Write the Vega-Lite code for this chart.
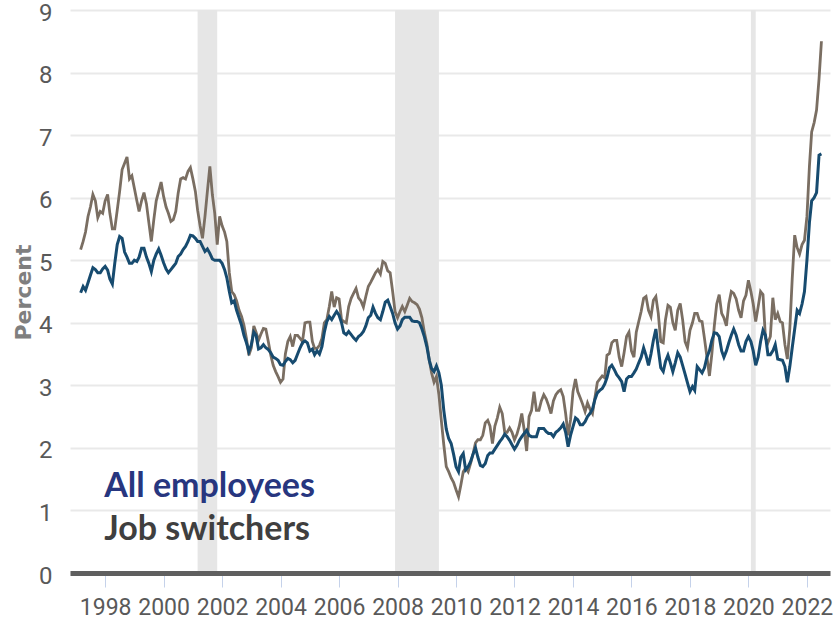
{
  "$schema": "https://vega.github.io/schema/vega-lite/v6.json",
  "width": 760,
  "height": 563,
  "autosize": {"type": "none"},
  "padding": {"left": 70, "top": 10, "right": 8, "bottom": 52},
  "background": "white",
  "config": {"view": {"stroke": null}},
  "datasets": {
    "wages": [
      {"d":"1997-03","a":4.48,"j":5.17},{"d":"1997-04","a":4.58,"j":5.30},{"d":"1997-05","a":4.52,"j":5.45},{"d":"1997-06","a":4.64,"j":5.70},{"d":"1997-07","a":4.76,"j":5.85},{"d":"1997-08","a":4.88,"j":6.05},{"d":"1997-09","a":4.85,"j":5.95},{"d":"1997-10","a":4.80,"j":5.68},{"d":"1997-11","a":4.80,"j":5.78},{"d":"1997-12","a":4.86,"j":5.75},
      {"d":"1998-01","a":4.90,"j":5.95},{"d":"1998-02","a":4.84,"j":6.05},{"d":"1998-03","a":4.70,"j":5.75},{"d":"1998-04","a":4.62,"j":5.50},{"d":"1998-05","a":4.95,"j":5.50},{"d":"1998-06","a":5.25,"j":5.80},{"d":"1998-07","a":5.38,"j":6.10},{"d":"1998-08","a":5.35,"j":6.45},{"d":"1998-09","a":5.13,"j":6.55},{"d":"1998-10","a":5.05,"j":6.65},{"d":"1998-11","a":4.95,"j":6.30},{"d":"1998-12","a":4.95,"j":6.35},
      {"d":"1999-01","a":5.00,"j":6.15},{"d":"1999-02","a":4.98,"j":5.95},{"d":"1999-03","a":5.05,"j":5.78},{"d":"1999-04","a":5.19,"j":5.95},{"d":"1999-05","a":5.19,"j":6.08},{"d":"1999-06","a":5.05,"j":5.90},{"d":"1999-07","a":4.95,"j":5.60},{"d":"1999-08","a":4.82,"j":5.30},{"d":"1999-09","a":5.00,"j":5.65},{"d":"1999-10","a":5.10,"j":5.95},{"d":"1999-11","a":5.18,"j":6.10},{"d":"1999-12","a":5.08,"j":6.25},
      {"d":"2000-01","a":4.96,"j":6.02},{"d":"2000-02","a":4.86,"j":5.85},{"d":"2000-03","a":4.80,"j":5.75},{"d":"2000-04","a":4.85,"j":5.62},{"d":"2000-05","a":4.90,"j":5.65},{"d":"2000-06","a":4.95,"j":5.78},{"d":"2000-07","a":5.06,"j":6.07},{"d":"2000-08","a":5.10,"j":6.30},{"d":"2000-09","a":5.17,"j":6.32},{"d":"2000-10","a":5.22,"j":6.30},{"d":"2000-11","a":5.30,"j":6.42},{"d":"2000-12","a":5.40,"j":6.48},
      {"d":"2001-01","a":5.39,"j":6.30},{"d":"2001-02","a":5.35,"j":6.10},{"d":"2001-03","a":5.30,"j":5.80},{"d":"2001-04","a":5.30,"j":5.55},{"d":"2001-05","a":5.22,"j":5.35},{"d":"2001-06","a":5.14,"j":5.70},{"d":"2001-07","a":5.18,"j":6.10},{"d":"2001-08","a":5.11,"j":6.50},{"d":"2001-09","a":5.02,"j":6.05},{"d":"2001-10","a":5.00,"j":5.75},{"d":"2001-11","a":5.00,"j":5.25},{"d":"2001-12","a":5.00,"j":5.70},
      {"d":"2002-01","a":4.95,"j":5.55},{"d":"2002-02","a":4.85,"j":5.45},{"d":"2002-03","a":4.72,"j":5.30},{"d":"2002-04","a":4.50,"j":4.80},{"d":"2002-05","a":4.32,"j":4.50},{"d":"2002-06","a":4.35,"j":4.45},{"d":"2002-07","a":4.20,"j":4.35},{"d":"2002-08","a":4.08,"j":4.20},{"d":"2002-09","a":3.96,"j":4.10},{"d":"2002-10","a":3.80,"j":3.96},{"d":"2002-11","a":3.68,"j":3.75},{"d":"2002-12","a":3.54,"j":3.48},
      {"d":"2003-01","a":3.65,"j":3.60},{"d":"2003-02","a":3.85,"j":3.95},{"d":"2003-03","a":3.80,"j":3.85},{"d":"2003-04","a":3.58,"j":3.72},{"d":"2003-05","a":3.60,"j":3.82},{"d":"2003-06","a":3.65,"j":3.91},{"d":"2003-07","a":3.60,"j":3.90},{"d":"2003-08","a":3.57,"j":3.70},{"d":"2003-09","a":3.52,"j":3.48},{"d":"2003-10","a":3.45,"j":3.32},{"d":"2003-11","a":3.43,"j":3.22},{"d":"2003-12","a":3.40,"j":3.14},
      {"d":"2004-01","a":3.33,"j":3.05},{"d":"2004-02","a":3.32,"j":3.10},{"d":"2004-03","a":3.38,"j":3.50},{"d":"2004-04","a":3.43,"j":3.70},{"d":"2004-05","a":3.41,"j":3.78},{"d":"2004-06","a":3.36,"j":3.62},{"d":"2004-07","a":3.40,"j":3.80},{"d":"2004-08","a":3.50,"j":3.80},{"d":"2004-09","a":3.60,"j":3.75},{"d":"2004-10","a":3.68,"j":3.70},{"d":"2004-11","a":3.71,"j":4.00},{"d":"2004-12","a":3.68,"j":4.01},
      {"d":"2005-01","a":3.55,"j":4.01},{"d":"2005-02","a":3.58,"j":3.70},{"d":"2005-03","a":3.49,"j":3.59},{"d":"2005-04","a":3.55,"j":3.59},{"d":"2005-05","a":3.50,"j":3.64},{"d":"2005-06","a":3.62,"j":3.75},{"d":"2005-07","a":3.85,"j":4.00},{"d":"2005-08","a":4.02,"j":4.05},{"d":"2005-09","a":4.10,"j":4.26},{"d":"2005-10","a":4.05,"j":4.50},{"d":"2005-11","a":4.12,"j":4.25},{"d":"2005-12","a":4.18,"j":4.40},
      {"d":"2006-01","a":4.12,"j":4.38},{"d":"2006-02","a":4.00,"j":4.05},{"d":"2006-03","a":3.84,"j":4.02},{"d":"2006-04","a":3.81,"j":4.00},{"d":"2006-05","a":3.86,"j":4.26},{"d":"2006-06","a":3.81,"j":4.39},{"d":"2006-07","a":3.76,"j":4.47},{"d":"2006-08","a":3.72,"j":4.55},{"d":"2006-09","a":3.78,"j":4.40},{"d":"2006-10","a":3.81,"j":4.35},{"d":"2006-11","a":3.86,"j":4.25},{"d":"2006-12","a":3.95,"j":4.42},
      {"d":"2007-01","a":4.08,"j":4.58},{"d":"2007-02","a":4.12,"j":4.65},{"d":"2007-03","a":4.25,"j":4.72},{"d":"2007-04","a":4.15,"j":4.80},{"d":"2007-05","a":4.08,"j":4.85},{"d":"2007-06","a":4.05,"j":4.78},{"d":"2007-07","a":4.18,"j":4.98},{"d":"2007-08","a":4.33,"j":4.95},{"d":"2007-09","a":4.36,"j":4.83},{"d":"2007-10","a":4.26,"j":4.80},{"d":"2007-11","a":4.15,"j":4.50},{"d":"2007-12","a":4.00,"j":4.18},
      {"d":"2008-01","a":3.90,"j":4.08},{"d":"2008-02","a":3.95,"j":4.18},{"d":"2008-03","a":4.05,"j":4.26},{"d":"2008-04","a":4.09,"j":4.18},{"d":"2008-05","a":4.09,"j":4.28},{"d":"2008-06","a":4.09,"j":4.39},{"d":"2008-07","a":4.03,"j":4.34},{"d":"2008-08","a":4.02,"j":4.32},{"d":"2008-09","a":4.02,"j":4.29},{"d":"2008-10","a":4.00,"j":4.22},{"d":"2008-11","a":3.90,"j":4.08},{"d":"2008-12","a":3.78,"j":3.85},
      {"d":"2009-01","a":3.62,"j":3.67},{"d":"2009-02","a":3.40,"j":3.40},{"d":"2009-03","a":3.27,"j":3.20},{"d":"2009-04","a":3.22,"j":3.05},{"d":"2009-05","a":3.31,"j":3.14},{"d":"2009-06","a":3.20,"j":2.85},{"d":"2009-07","a":3.00,"j":2.44},{"d":"2009-08","a":2.60,"j":2.05},{"d":"2009-09","a":2.30,"j":1.70},{"d":"2009-10","a":2.15,"j":1.62},{"d":"2009-11","a":2.07,"j":1.52},{"d":"2009-12","a":1.90,"j":1.45},
      {"d":"2010-01","a":1.70,"j":1.33},{"d":"2010-02","a":1.62,"j":1.22},{"d":"2010-03","a":1.85,"j":1.40},{"d":"2010-04","a":1.91,"j":1.62},{"d":"2010-05","a":1.65,"j":1.68},{"d":"2010-06","a":1.70,"j":1.62},{"d":"2010-07","a":1.78,"j":1.75},{"d":"2010-08","a":1.90,"j":1.90},{"d":"2010-09","a":2.00,"j":2.08},{"d":"2010-10","a":1.85,"j":2.13},{"d":"2010-11","a":1.72,"j":2.13},{"d":"2010-12","a":1.70,"j":2.20},
      {"d":"2011-01","a":1.75,"j":2.40},{"d":"2011-02","a":1.88,"j":2.44},{"d":"2011-03","a":1.92,"j":2.35},{"d":"2011-04","a":1.92,"j":2.07},{"d":"2011-05","a":1.98,"j":2.35},{"d":"2011-06","a":2.04,"j":2.48},{"d":"2011-07","a":2.10,"j":2.65},{"d":"2011-08","a":2.15,"j":2.55},{"d":"2011-09","a":2.22,"j":2.25},{"d":"2011-10","a":2.18,"j":2.25},{"d":"2011-11","a":2.12,"j":2.32},{"d":"2011-12","a":2.05,"j":2.25},
      {"d":"2012-01","a":1.98,"j":2.13},{"d":"2012-02","a":2.04,"j":2.22},{"d":"2012-03","a":2.12,"j":2.35},{"d":"2012-04","a":2.18,"j":2.55},{"d":"2012-05","a":2.23,"j":2.29},{"d":"2012-06","a":2.28,"j":1.95},{"d":"2012-07","a":2.20,"j":2.50},{"d":"2012-08","a":2.18,"j":2.60},{"d":"2012-09","a":2.18,"j":2.90},{"d":"2012-10","a":2.18,"j":2.60},{"d":"2012-11","a":2.31,"j":2.60},{"d":"2012-12","a":2.31,"j":2.75},
      {"d":"2013-01","a":2.31,"j":2.85},{"d":"2013-02","a":2.26,"j":2.78},{"d":"2013-03","a":2.23,"j":2.68},{"d":"2013-04","a":2.23,"j":2.55},{"d":"2013-05","a":2.18,"j":2.75},{"d":"2013-06","a":2.25,"j":2.85},{"d":"2013-07","a":2.28,"j":2.90},{"d":"2013-08","a":2.32,"j":2.93},{"d":"2013-09","a":2.38,"j":2.82},{"d":"2013-10","a":2.25,"j":2.55},{"d":"2013-11","a":2.02,"j":2.20},{"d":"2013-12","a":2.20,"j":2.45},
      {"d":"2014-01","a":2.34,"j":2.90},{"d":"2014-02","a":2.48,"j":3.10},{"d":"2014-03","a":2.45,"j":2.90},{"d":"2014-04","a":2.37,"j":2.80},{"d":"2014-05","a":2.37,"j":2.70},{"d":"2014-06","a":2.42,"j":2.58},{"d":"2014-07","a":2.50,"j":2.72},{"d":"2014-08","a":2.55,"j":2.62},{"d":"2014-09","a":2.62,"j":2.55},{"d":"2014-10","a":2.77,"j":2.80},{"d":"2014-11","a":2.88,"j":3.05},{"d":"2014-12","a":2.92,"j":3.10},
      {"d":"2015-01","a":2.95,"j":3.15},{"d":"2015-02","a":3.02,"j":3.12},{"d":"2015-03","a":3.12,"j":3.48},{"d":"2015-04","a":3.28,"j":3.51},{"d":"2015-05","a":3.32,"j":3.68},{"d":"2015-06","a":3.25,"j":3.72},{"d":"2015-07","a":3.17,"j":3.72},{"d":"2015-08","a":3.12,"j":3.45},{"d":"2015-09","a":3.06,"j":3.30},{"d":"2015-10","a":2.90,"j":3.52},{"d":"2015-11","a":3.10,"j":3.78},{"d":"2015-12","a":3.14,"j":3.85},
      {"d":"2016-01","a":3.14,"j":3.55},{"d":"2016-02","a":3.20,"j":3.45},{"d":"2016-03","a":3.26,"j":3.85},{"d":"2016-04","a":3.36,"j":4.02},{"d":"2016-05","a":3.45,"j":4.18},{"d":"2016-06","a":3.60,"j":4.39},{"d":"2016-07","a":3.48,"j":4.42},{"d":"2016-08","a":3.32,"j":4.20},{"d":"2016-09","a":3.50,"j":4.10},{"d":"2016-10","a":3.72,"j":4.36},{"d":"2016-11","a":3.90,"j":4.42},{"d":"2016-12","a":3.58,"j":4.15},
      {"d":"2017-01","a":3.28,"j":3.70},{"d":"2017-02","a":3.22,"j":3.68},{"d":"2017-03","a":3.38,"j":4.05},{"d":"2017-04","a":3.48,"j":4.28},{"d":"2017-05","a":3.36,"j":4.25},{"d":"2017-06","a":3.22,"j":4.00},{"d":"2017-07","a":3.36,"j":3.88},{"d":"2017-08","a":3.52,"j":4.20},{"d":"2017-09","a":3.45,"j":4.31},{"d":"2017-10","a":3.32,"j":4.05},{"d":"2017-11","a":3.18,"j":3.70},{"d":"2017-12","a":3.04,"j":3.60},
      {"d":"2018-01","a":2.90,"j":3.88},{"d":"2018-02","a":2.98,"j":4.00},{"d":"2018-03","a":2.92,"j":4.15},{"d":"2018-04","a":3.30,"j":4.15},{"d":"2018-05","a":3.25,"j":4.03},{"d":"2018-06","a":3.20,"j":4.02},{"d":"2018-07","a":3.28,"j":3.75},{"d":"2018-08","a":3.45,"j":3.45},{"d":"2018-09","a":3.55,"j":3.15},{"d":"2018-10","a":3.72,"j":3.50},{"d":"2018-11","a":3.84,"j":3.95},{"d":"2018-12","a":3.83,"j":4.30},
      {"d":"2019-01","a":3.78,"j":4.45},{"d":"2019-02","a":3.55,"j":4.15},{"d":"2019-03","a":3.45,"j":4.08},{"d":"2019-04","a":3.55,"j":3.95},{"d":"2019-05","a":3.68,"j":4.30},{"d":"2019-06","a":3.80,"j":4.50},{"d":"2019-07","a":3.90,"j":4.47},{"d":"2019-08","a":3.80,"j":4.38},{"d":"2019-09","a":3.65,"j":4.20},{"d":"2019-10","a":3.55,"j":4.08},{"d":"2019-11","a":3.55,"j":4.35},{"d":"2019-12","a":3.70,"j":4.44},
      {"d":"2020-01","a":3.78,"j":4.68},{"d":"2020-02","a":3.70,"j":4.50},{"d":"2020-03","a":3.55,"j":4.30},{"d":"2020-04","a":3.32,"j":4.02},{"d":"2020-05","a":3.45,"j":4.25},{"d":"2020-06","a":3.70,"j":4.50},{"d":"2020-07","a":3.88,"j":4.45},{"d":"2020-08","a":3.80,"j":3.75},{"d":"2020-09","a":3.49,"j":3.68},{"d":"2020-10","a":3.49,"j":3.78},{"d":"2020-11","a":3.55,"j":4.40},{"d":"2020-12","a":3.65,"j":4.05},
      {"d":"2021-01","a":3.42,"j":4.15},{"d":"2021-02","a":3.41,"j":4.02},{"d":"2021-03","a":3.40,"j":4.00},{"d":"2021-04","a":3.30,"j":3.65},{"d":"2021-05","a":3.05,"j":3.42},{"d":"2021-06","a":3.30,"j":3.90},{"d":"2021-07","a":3.60,"j":4.70},{"d":"2021-08","a":3.90,"j":5.40},{"d":"2021-09","a":4.20,"j":5.20},{"d":"2021-10","a":4.15,"j":5.10},{"d":"2021-11","a":4.30,"j":5.25},{"d":"2021-12","a":4.50,"j":5.32},
      {"d":"2022-01","a":5.00,"j":5.70},{"d":"2022-02","a":5.60,"j":6.50},{"d":"2022-03","a":5.95,"j":7.05},{"d":"2022-04","a":6.00,"j":7.20},{"d":"2022-05","a":6.08,"j":7.40},{"d":"2022-06","a":6.68,"j":7.90},{"d":"2022-07","a":6.70,"j":8.50}
    ],
    "recessions": [
      {"s":"2001-03-01","e":"2001-11-01"},
      {"s":"2007-12-01","e":"2009-06-01"},
      {"s":"2020-02-01","e":"2020-04-01"}
    ],
    "labels": [
      {"d":"1997-12-20","v":1.22,"t":"All employees","c":"all"},
      {"d":"1997-12-20","v":0.53,"t":"Job switchers","c":"job"}
    ]
  },
  "layer": [
    {
      "data": {"name": "recessions"},
      "mark": {"type": "rect", "color": "#e6e6e6"},
      "encoding": {
        "x": {
          "field": "s", "type": "temporal",
          "scale": {"type": "utc", "nice": false, "domain": [{"year": 1996, "month": 10, "date": 19, "utc": true}, {"year": 2022, "month": 10, "date": 16, "utc": true}]},
          "axis": {
            "title": null,
            "zindex": 1,
            "format": "%Y",
            "values": [
              {"year":1998,"utc":true},{"year":2000,"utc":true},{"year":2002,"utc":true},{"year":2004,"utc":true},{"year":2006,"utc":true},{"year":2008,"utc":true},{"year":2010,"utc":true},{"year":2012,"utc":true},{"year":2014,"utc":true},{"year":2016,"utc":true},{"year":2018,"utc":true},{"year":2020,"utc":true},{"year":2022,"utc":true}
            ],
            "labelOverlap": false,
            "labelFlush": false,
            "grid": false,
            "domainColor": "#5f5f5f",
            "domainWidth": 5,
            "tickColor": "#c5d2ea",
            "tickWidth": 1,
            "tickSize": 14,
            "labelFont": "Roboto",
            "labelFontSize": 23,
            "labelColor": "#595959",
            "labelPadding": 9
          }
        },
        "x2": {"field": "e"}
      }
    },
    {
      "data": {"name": "wages"},
      "mark": {"type": "line", "color": "#7a6e62", "strokeWidth": 2.8},
      "encoding": {
        "x": {"field": "d", "type": "temporal"},
        "y": {
          "field": "j", "type": "quantitative",
          "scale": {"domain": [0, 9], "nice": false},
          "axis": {
            "title": "Percent",
            "titleFont": "DejaVu Sans",
            "titleFontSize": 22,
            "titleFontWeight": "bold",
            "titleColor": "#7f7f7f",
            "titleX": -40,
            "titleY": 282,
            "titleAngle": -90,
            "titleAlign": "center",
            "titleBaseline": "alphabetic",
            "values": [0,1,2,3,4,5,6,7,8,9],
            "format": "d",
            "domain": false,
            "ticks": false,
            "grid": true,
            "gridColor": "#e9e9e9",
            "gridWidth": 2,
            "labelFont": "Roboto",
            "labelFontSize": 24,
            "labelColor": "#595959",
            "labelPadding": 18,
            "labelOffset": 3
          }
        }
      }
    },
    {
      "data": {"name": "wages"},
      "mark": {"type": "line", "color": "#174b6f", "strokeWidth": 3},
      "encoding": {
        "x": {"field": "d", "type": "temporal"},
        "y": {"field": "a", "type": "quantitative"}
      }
    },
    {
      "data": {"name": "labels"},
      "mark": {"type": "text", "align": "left", "baseline": "alphabetic", "font": "Lato", "fontWeight": "bold", "fontSize": 34},
      "encoding": {
        "x": {"field": "d", "type": "temporal"},
        "y": {"field": "v", "type": "quantitative"},
        "text": {"field": "t"},
        "color": {"field": "c", "type": "nominal", "scale": {"domain": ["all", "job"], "range": ["#27367f", "#3f3f3f"]}, "legend": null}
      }
    }
  ]
}
